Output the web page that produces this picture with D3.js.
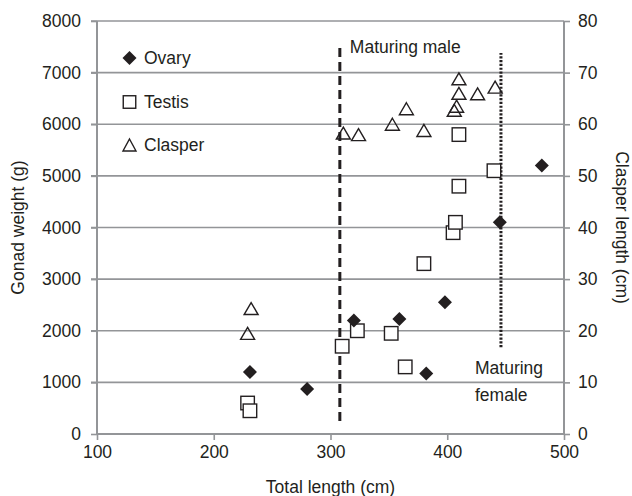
<!DOCTYPE html>
<html><head><meta charset="utf-8">
<script src="https://cdn.jsdelivr.net/npm/d3@7"></script>
<style>body{margin:0;background:#fff}svg{display:block}text{font-family:"Liberation Sans",Arial,sans-serif;fill:#231f20}</style>
</head><body><svg id="c" width="632" height="496"></svg>
<script>
// Data (Total length cm, Gonad weight g)
const ovaryX = [231, 280, 320, 359, 382, 398, 445, 481];
const ovaryY = [1200, 870, 2200, 2230, 1170, 2550, 4100, 5200];
const testisX = [229, 231, 310, 323, 352, 364, 380, 405, 407, 410, 410, 440];
const testisY = [600, 450, 1700, 2000, 1950, 1300, 3300, 3900, 4100, 4800, 5800, 5100];
// Clasper length (cm), right axis
const clasperX = [232, 229, 311, 324, 353, 365, 380, 406, 408, 410, 410, 426, 441];
const clasperY = [24.3, 19.5, 58.3, 58.0, 60.0, 63.0, 58.8, 62.7, 63.5, 66.0, 68.8, 65.9, 67.2];
const xTicks = [100, 200, 300, 400, 500];
const yTicks = [0, 1000, 2000, 3000, 4000, 5000, 6000, 7000, 8000];
const y2Ticks = [0, 10, 20, 30, 40, 50, 60, 70, 80];
const maleLine = {x: 308, y0: 250, y1: 7500, label: "Maturing male"};
const femaleLine = {x: 446, y0: 1680, y1: 7380, label: ["Maturing", "female"]};
const legendItems = ["Ovary", "Testis", "Clasper"];

const svg = d3.select("#c");
const L = 97, R = 564, T = 21, B = 434;
const grid = "#939598", ink = "#231f20", fs = "17.5px";
const x = d3.scaleLinear().domain([100, 500]).range([L, R]);
const y = d3.scaleLinear().domain([0, 8000]).range([B, T]);
const y2 = d3.scaleLinear().domain([0, 80]).range([B, T]);

// gridlines
svg.append("g").selectAll("line").data(yTicks.slice(1)).join("line")
  .attr("x1", L - 6).attr("x2", R).attr("y1", d => y(d)).attr("y2", d => y(d))
  .attr("stroke", grid).attr("stroke-width", 1.6);

// axes
const ax = svg.append("g").attr("transform", `translate(0,${B})`)
  .call(d3.axisBottom(x).tickValues(xTicks).tickSize(6).tickPadding(6).tickFormat(d3.format("d")));
const ay = svg.append("g").attr("transform", `translate(${L},0)`)
  .call(d3.axisLeft(y).tickValues(yTicks).tickSize(6).tickPadding(10).tickFormat(d3.format("d")));
const ay2 = svg.append("g").attr("transform", `translate(${R},0)`)
  .call(d3.axisRight(y2).tickValues(y2Ticks).tickSize(6).tickPadding(8).tickFormat(d3.format("d")));
[ax, ay, ay2].forEach(g => {
  g.select(".domain").attr("stroke", grid).attr("stroke-width", 2);
  g.selectAll(".tick line").attr("stroke", grid).attr("stroke-width", 1.6);
  g.selectAll("text").style("font-size", fs).attr("fill", ink).style("font-family", '"Liberation Sans",Arial,sans-serif');
});
ax.select(".domain").attr("d", `M${L},0H${R}`);
ay.select(".domain").attr("d", `M0,${T}V${B}`);
ay2.select(".domain").attr("d", `M0,${T}V${B}`);

// axis titles
svg.append("text").attr("x", (L + R) / 2).attr("y", 493).attr("text-anchor", "middle").style("font-size", fs).text("Total length (cm)");
svg.append("text").attr("transform", `translate(24,${(T + B) / 2}) rotate(-90)`).attr("text-anchor", "middle").style("font-size", fs).text("Gonad weight (g)");
svg.append("text").attr("transform", `translate(616,${(T + B) / 2}) rotate(90)`).attr("text-anchor", "middle").style("font-size", fs).text("Clasper length (cm)");

// reference lines
svg.append("line").attr("x1", x(maleLine.x)).attr("x2", x(maleLine.x)).attr("y1", y(maleLine.y0)).attr("y2", y(maleLine.y1))
  .attr("stroke", ink).attr("stroke-width", 3).attr("stroke-dasharray", "9,5");
svg.append("line").attr("x1", x(femaleLine.x)).attr("x2", x(femaleLine.x)).attr("y1", y(femaleLine.y0)).attr("y2", y(femaleLine.y1))
  .attr("stroke", ink).attr("stroke-width", 3).attr("stroke-dasharray", "2.2,1.6");
svg.append("text").attr("x", x(maleLine.x) + 10).attr("y", 53).style("font-size", fs).text(maleLine.label);
svg.append("text").attr("x", 475).attr("y", 374).style("font-size", fs).text(femaleLine.label[0]);
svg.append("text").attr("x", 475).attr("y", 401).style("font-size", fs).text(femaleLine.label[1]);

// symbols
const diamond = (g, cx, cy, r) => g.append("path").attr("d", `M${cx},${cy - r}L${cx + r},${cy}L${cx},${cy + r}L${cx - r},${cy}Z`).attr("fill", ink);
const square = (g, cx, cy, s) => g.append("rect").attr("x", cx - s / 2).attr("y", cy - s / 2).attr("width", s).attr("height", s).attr("fill", "#fff").attr("stroke", ink).attr("stroke-width", 1.4);
const tri = (g, cx, cy, w, h) => g.append("path").attr("d", `M${cx},${cy - h / 2}L${cx + w / 2},${cy + h / 2}L${cx - w / 2},${cy + h / 2}Z`).attr("fill", "none").attr("stroke", ink).attr("stroke-width", 1.4);

const pts = svg.append("g");
testisX.forEach((d, i) => square(pts, x(d), y(testisY[i]), 13.5));
clasperX.forEach((d, i) => tri(pts, x(d), y2(clasperY[i]), 14, 12));
ovaryX.forEach((d, i) => diamond(pts, x(d), y(ovaryY[i]), 7));

// legend
const lg = svg.append("g");
const ly = [58, 102, 145];
diamond(lg, 129.5, ly[0], 7);
square(lg, 129.5, ly[1], 12.5);
tri(lg, 129.5, ly[2], 13, 12);
legendItems.forEach((t, i) => lg.append("text").attr("x", 144).attr("y", ly[i] + 6.3).style("font-size", fs).text(t));
</script></body></html>
